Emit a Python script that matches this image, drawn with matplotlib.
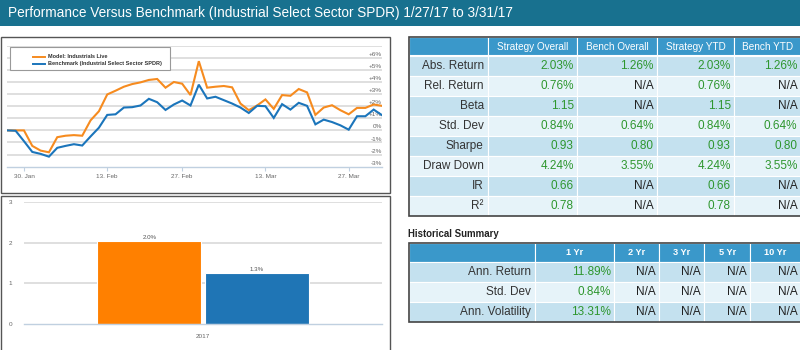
import matplotlib
matplotlib.use("Agg")
import matplotlib.pyplot as plt
from matplotlib.patches import Rectangle
from matplotlib.transforms import blended_transform_factory
import pandas as pd
import numpy as np

plt.rcParams['font.family'] = ['Liberation Sans', 'DejaVu Sans']

# ---------------- data ----------------
title = "Performance Versus Benchmark (Industrial Select Sector SPDR) 1/27/17 to 3/31/17"
series_names = ["Model: Industrials Live", "Benchmark (Industrial Select Sector SPDR)"]

trading_days = [d for d in pd.bdate_range("2017-01-26", "2017-03-31") if d != pd.Timestamp("2017-02-20")]

strategy = [0, 0, 0, -1.28, -1.67, -1.81, -0.56, -0.44, -0.39, -0.44, 0.83, 1.58,
            2.97, 3.28, 3.61, 3.83, 3.97, 4.17, 4.25, 3.53, 4.0, 3.86, 2.92, 5.72,
            3.53, 3.61, 3.67, 3.56, 2.22, 1.67, 2.06, 2.56, 1.78, 2.92, 2.86, 3.42,
            3.14, 1.28, 1.89, 2.08, 1.67, 1.33, 1.86, 1.86, 2.14, 2.03]
benchmark = [0, -0.03, -0.89, -1.78, -1.94, -2.17, -1.44, -1.28, -1.14, -1.25, -0.5, 0.22,
             1.28, 1.33, 1.89, 1.92, 2.06, 2.61, 2.33, 1.69, 2.14, 2.47, 2.06, 3.78,
             2.64, 2.78, 2.5, 2.22, 1.89, 1.44, 2.03, 2.0, 1.03, 2.17, 1.72, 2.28,
             2.03, 0.5, 0.89, 0.69, 0.42, 0.06, 1.17, 1.17, 1.72, 1.26]
x_tick_dates = ["2017-01-30", "2017-02-13", "2017-02-27", "2017-03-13", "2017-03-27"]
x_tick_labels = ["30. Jan", "13. Feb", "27. Feb", "13. Mar", "27. Mar"]
y_tick_values = [-3, -2, -1, 0, 1, 2, 3, 4, 5, 6]

bar_category = ["2017"]
bar_strategy = [2.03]
bar_benchmark = [1.26]
bar_yticks = [0, 1, 2, 3]

t1_cols = ["", "Strategy Overall", "Bench Overall", "Strategy YTD", "Bench YTD"]
t1_rows = ["Abs. Return", "Rel. Return", "Beta", "Std. Dev", "Sharpe", "Draw Down", "IR", "R²"]
t1_vals = [["2.03%", "1.26%", "2.03%", "1.26%"],
           ["0.76%", "N/A", "0.76%", "N/A"],
           ["1.15", "N/A", "1.15", "N/A"],
           ["0.84%", "0.64%", "0.84%", "0.64%"],
           ["0.93", "0.80", "0.93", "0.80"],
           ["4.24%", "3.55%", "4.24%", "3.55%"],
           ["0.66", "N/A", "0.66", "N/A"],
           ["0.78", "N/A", "0.78", "N/A"]]

t2_title = "Historical Summary"
t2_cols = ["", "1 Yr", "2 Yr", "3 Yr", "5 Yr", "10 Yr"]
t2_rows = ["Ann. Return", "Std. Dev", "Ann. Volatility"]
t2_vals = [["11.89%", "N/A", "N/A", "N/A", "N/A"],
           ["0.84%", "N/A", "N/A", "N/A", "N/A"],
           ["13.31%", "N/A", "N/A", "N/A", "N/A"]]

# ---------------- style ----------------
W, H = 800, 350
ORANGE = "#F68B1F"
BLUE = "#1B75BB"
BAR_OR = "#FF8000"
BAR_BL = "#1F75B5"
HEAD = "#18718F"
TH = "#3A98CA"
ROW_A = "#C4E1EF"
ROW_B = "#E6F3F9"
GREEN = "#2E962E"
GRID = "#D9D9D9"
AXC = "#C0D0E0"
LBL = "#666666"

fig = plt.figure(figsize=(8, 3.5), dpi=100)
fig.patch.set_facecolor("white")


def px_axes(x0, y0, x1, y1, **kw):
    return fig.add_axes([x0 / W, 1 - y1 / H, (x1 - x0) / W, (y1 - y0) / H], **kw)


bg = px_axes(0, 0, W, H)
bg.set_xlim(0, W)
bg.set_ylim(H, 0)
bg.axis("off")

# header bar
bg.add_patch(Rectangle((0, 0), W, 26, facecolor=HEAD, edgecolor="none"))
bg.text(8, 13.5, title, color="white", fontsize=9.8, va="center", ha="left")

# chart boxes
bg.add_patch(Rectangle((0.5, 36.5), 389.5, 156, facecolor="white", edgecolor="#555555", lw=1))
bg.add_patch(Rectangle((0.5, 195.5), 389.5, 160, facecolor="white", edgecolor="#555555", lw=1))

# ---------------- line chart ----------------
idx = np.arange(len(trading_days))
ax = px_axes(7.3, 45.7, 382, 166.7)
ax.set_facecolor("none")
ax.set_xlim(0, len(trading_days) - 1)
ax.set_ylim(-3, 7)
for v in range(-2, 8):
    ax.axhline(v, color=GRID, lw=1.2, zorder=0)
ax.plot(idx, strategy, color=ORANGE, lw=1.5, zorder=3, solid_joinstyle="miter")
ax.plot(idx, benchmark, color=BLUE, lw=1.5, zorder=3, solid_joinstyle="miter")
tick_pos = [trading_days.index(pd.Timestamp(d)) for d in x_tick_dates]
ax.set_xticks(tick_pos)
ax.set_xticklabels(x_tick_labels, fontsize=4.6, color=LBL)
ax.tick_params(axis="x", length=3, color=AXC, pad=2.5, width=0.8)
ax.set_yticks([])
for s in ["top", "left", "right"]:
    ax.spines[s].set_visible(False)
ax.spines["bottom"].set_color(AXC)
ax.spines["bottom"].set_linewidth(1)
tr = blended_transform_factory(ax.transAxes, ax.transData)
for v in y_tick_values:
    lab = ("+%d%%" % v) if v > 0 else ("%d%%" % v)
    ax.text(1.0, v + 0.08, lab, transform=tr, ha="right", va="bottom",
            fontsize=4.6, color=LBL, zorder=1)

# ---------------- bar chart ----------------
bx = px_axes(24, 201.7, 382, 324.3)
bx.set_facecolor("none")
bx.set_xlim(-0.5, 0.5)
bx.set_ylim(0, 3)
for v in bar_yticks[1:]:
    bx.axhline(v, color=GRID, lw=1.2, zorder=0)
xc = np.arange(len(bar_category))
bw = 0.29
b1 = bx.bar(xc - 0.15, bar_strategy, width=bw, color=BAR_OR, edgecolor="white", lw=0.8, zorder=2)
b2 = bx.bar(xc + 0.15, bar_benchmark, width=bw, color=BAR_BL, edgecolor="white", lw=0.8, zorder=2)
for bars, vals in [(b1, bar_strategy), (b2, bar_benchmark)]:
    for r, v in zip(bars, vals):
        bx.text(r.get_x() + r.get_width() / 2, v + 0.03, "%.1f%%" % v, ha="center",
                va="bottom", fontsize=4.4, color="#555555")
bx.set_xticks(xc)
bx.set_xticklabels(bar_category, fontsize=4.6, color=LBL)
bx.tick_params(axis="x", length=0, pad=7)
bx.set_yticks(bar_yticks)
bx.set_yticklabels([str(v) for v in bar_yticks], fontsize=4.6, color=LBL)
bx.tick_params(axis="y", length=0, pad=11)
for lab in bx.get_yticklabels():
    lab.set_horizontalalignment("left")
for s in ["top", "left", "right"]:
    bx.spines[s].set_visible(False)
bx.spines["bottom"].set_color(AXC)
bx.spines["bottom"].set_linewidth(1)

# ---------------- overlay (legend on top of line chart) ----------------
ov = px_axes(0, 0, W, H)
ov.set_xlim(0, W)
ov.set_ylim(H, 0)
ov.axis("off")
ov.patch.set_alpha(0)
ov.add_patch(Rectangle((10, 47), 160, 23, facecolor="white", edgecolor="#999999", lw=0.8, zorder=5))
for k, (name, col) in enumerate(zip(series_names, [ORANGE, BLUE])):
    yy = 56.5 + 7.5 * k
    ov.plot([33, 45], [yy, yy], color=col, lw=1.4, zorder=6)
    ov.text(48, yy, name, fontsize=4.0, fontweight="bold", color="#333333",
            va="center", ha="left", zorder=6)


# ---------------- tables ----------------
def draw_table(colx, top, head_h, row_h, cols, rows, vals, head_weight, head_size):
    ncol = len(colx) - 1
    for j in range(ncol):
        ov.add_patch(Rectangle((colx[j], top), colx[j + 1] - colx[j], head_h,
                               facecolor=TH, edgecolor="white", lw=0.8))
        if cols[j]:
            ov.text((colx[j] + colx[j + 1]) / 2, top + head_h / 2 + 0.5, cols[j],
                    ha="center", va="center", color="white",
                    fontsize=head_size, fontweight=head_weight)
    for i, rname in enumerate(rows):
        y0 = top + head_h + i * row_h
        fc = ROW_A if i % 2 == 0 else ROW_B
        for j in range(ncol):
            ov.add_patch(Rectangle((colx[j], y0), colx[j + 1] - colx[j], row_h,
                                   facecolor=fc, edgecolor="white", lw=0.8))
        yc = y0 + row_h / 2 + 0.5
        ov.text(colx[1] - 4, yc, rname, ha="right", va="center", fontsize=8.5, color="#333333")
        for j, v in enumerate(vals[i]):
            col = "#222222" if v == "N/A" else GREEN
            ov.text(colx[j + 2] - 3.5, yc, v, ha="right", va="center", fontsize=8.5, color=col)
    bottom = top + head_h + len(rows) * row_h
    ov.add_patch(Rectangle((colx[0], top), colx[-1] - colx[0], bottom - top,
                           facecolor="none", edgecolor="#444444", lw=1.2))


t1x = [408.5, 487.7, 577.3, 657.3, 734.3, 801]
draw_table(t1x, 36.7, 18.8, 20, t1_cols, t1_rows, t1_vals, "normal", 7.2)

ov.text(408, 234, t2_title, fontsize=6.9, fontweight="bold", color="#222222", va="center", ha="left")
t2x = [408.5, 535, 614.3, 659, 704.3, 750, 801]
draw_table(t2x, 242.7, 19, 20, t2_cols, t2_rows, t2_vals, "bold", 6.6)

fig.savefig("out.png", dpi=100, facecolor="white")
